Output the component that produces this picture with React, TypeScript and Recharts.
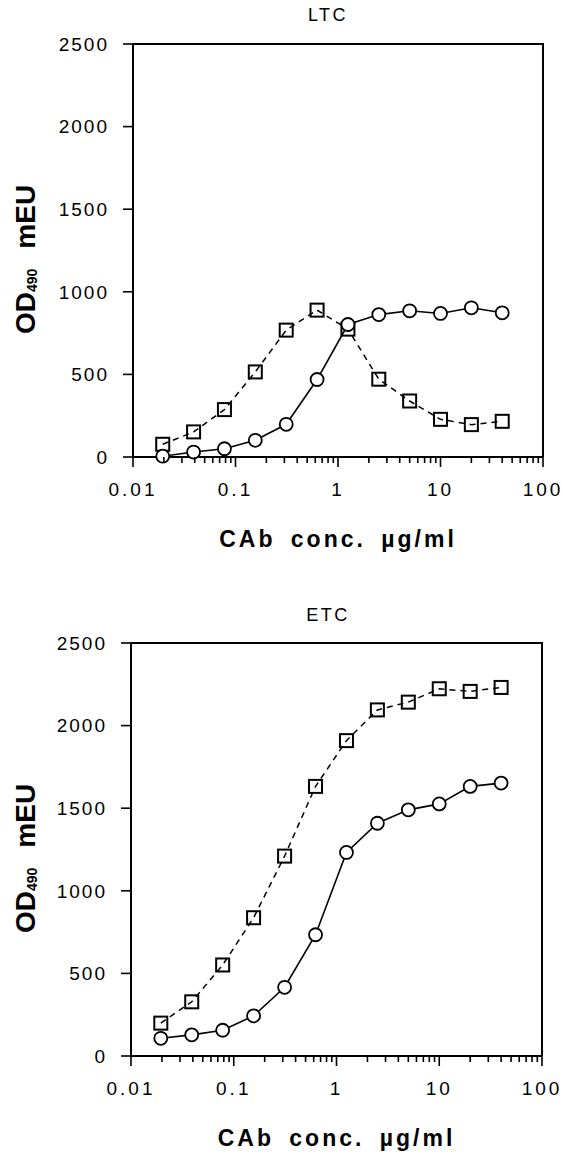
import React from 'react'
import { LineChart, Line, XAxis, YAxis, Label } from 'recharts'

// CAb concentrations (µg/ml), two-fold dilutions
const conc = [0.0195, 0.039, 0.078, 0.156, 0.3125, 0.625, 1.25, 2.5, 5, 10, 20, 40]

// OD490 mEU
const ltcCircle = [5, 30, 50, 101, 198, 469, 802, 862, 885, 869, 903, 873]
const ltcSquare = [77, 152, 287, 515, 768, 889, 774, 471, 339, 228, 196, 216]
const etcCircle = [107, 128, 156, 243, 416, 734, 1232, 1409, 1490, 1526, 1632, 1652]
const etcSquare = [199, 328, 551, 837, 1210, 1632, 1909, 2095, 2142, 2223, 2207, 2231]

const xMajorTicks = [0.01, 0.1, 1, 10, 100]
const xMajorLabels = ['0.01', '0.1', '1', '10', '100']
const xMinorTicks = [
  0.02, 0.03, 0.04, 0.05, 0.06, 0.07, 0.08, 0.09,
  0.2, 0.3, 0.4, 0.5, 0.6, 0.7, 0.8, 0.9,
  2, 3, 4, 5, 6, 7, 8, 9,
  20, 30, 40, 50, 60, 70, 80, 90,
]
const yTicks = [0, 500, 1000, 1500, 2000, 2500]

const FONT = '"Liberation Sans", Arial, Helvetica, sans-serif'
const PLOT_H = 413

function XTick(props: any) {
  const { x, y, payload } = props
  const idx = xMajorTicks.findIndex((t) => Math.abs(t - payload.value) < 1e-9)
  const major = idx >= 0
  return (
    <g>
      <line x1={x} x2={x} y1={y} y2={y + (major ? 10 : 6)} stroke="#000" strokeWidth={1.6} />
      {major && (
        <text
          x={x}
          y={y + 39}
          textAnchor="middle"
          fontSize={19}
          letterSpacing={3}
          fontFamily={FONT}
          fill="#000"
        >
          {xMajorLabels[idx]}
        </text>
      )}
    </g>
  )
}

function SquareDot(props: any) {
  const { cx, cy, index } = props
  if (cx == null || cy == null) return <g key={`s-${index}`} />
  return (
    <rect
      key={`s-${index}`}
      x={cx - 6.5}
      y={cy - 6.5}
      width={13}
      height={13}
      fill="none"
      stroke="#000"
      strokeWidth={2}
    />
  )
}

function XTitle(props: any) {
  const vb = props.viewBox || { x: 133, y: 457, width: 410 }
  return (
    <text
      x={vb.x + vb.width / 2}
      y={vb.y + 90}
      textAnchor="middle"
      fontSize={23}
      fontWeight="bold"
      letterSpacing={3}
      wordSpacing={6}
      fontFamily={FONT}
      fill="#000"
    >
      CAb conc. µg/ml
    </text>
  )
}

function YTitle(props: any) {
  const vb = props.viewBox || { x: 0, y: 44, width: 133, height: 413 }
  const bx = 35
  const by = vb.y + 290
  return (
    <text
      transform={`translate(${bx},${by}) rotate(-90)`}
      x={0}
      y={0}
      fontSize={28}
      fontWeight="bold"
      fontFamily={FONT}
      fill="#000"
    >
      OD
      <tspan fontSize={14} dy={2}>490</tspan>
      <tspan dx={20} dy={-2}>mEU</tspan>
    </text>
  )
}

function Panel({
  circle,
  square,
  height,
  top,
  left,
  right,
}: {
  circle: number[]
  square: number[]
  height: number
  top: number
  left: number
  right: number
}) {
  const data = conc.map((c, i) => ({ x: c, circle: circle[i], square: square[i] }))
  return (
    <div style={{ position: 'relative', width: 562, height }}>
      <LineChart
        width={562}
        height={height}
        data={data}
        margin={{ top, right, left: 0, bottom: 0 }}
      >
        <XAxis
          dataKey="x"
          type="number"
          scale="log"
          domain={[0.01, 100]}
          allowDataOverflow
          ticks={[...xMajorTicks, ...xMinorTicks].sort((a, b) => a - b)}
          interval={0}
          tickSize={0}
          tickMargin={0}
          tickLine={false}
          tick={<XTick />}
          axisLine={{ stroke: '#000', strokeWidth: 2 }}
          height={height - top - PLOT_H}
        >
          <Label content={<XTitle />} />
        </XAxis>
        <YAxis
          type="number"
          domain={[0, 2500]}
          ticks={yTicks}
          interval={0}
          width={left}
          tickSize={10}
          tickMargin={14}
          tickLine={{ stroke: '#000', strokeWidth: 1.6 }}
          axisLine={{ stroke: '#000', strokeWidth: 2 }}
          tick={{ fill: '#000', fontSize: 19, fontFamily: FONT, letterSpacing: 2 }}
        >
          <Label content={<YTitle />} />
        </YAxis>
        <Line
          type="linear"
          dataKey="square"
          stroke="#000"
          strokeWidth={1.5}
          strokeDasharray="6 5"
          dot={SquareDot}
          activeDot={false}
          isAnimationActive={false}
        />
        <Line
          type="linear"
          dataKey="circle"
          stroke="#000"
          strokeWidth={1.6}
          dot={{ r: 6.5, fill: '#fff', stroke: '#000', strokeWidth: 1.8 }}
          activeDot={false}
          isAnimationActive={false}
        />
      </LineChart>
      {/* top and right edges of the plot frame */}
      <div
        style={{
          position: 'absolute',
          left,
          top: top - 1,
          width: 562 - left - right + 1,
          height: PLOT_H + 1,
          borderTop: '2px solid #000',
          borderRight: '2px solid #000',
          boxSizing: 'border-box',
          pointerEvents: 'none',
        }}
      />
    </div>
  )
}

const titleStyle: React.CSSProperties = {
  position: 'absolute',
  left: 328,
  transform: 'translateX(-50%)',
  fontFamily: FONT,
  fontSize: 18,
  lineHeight: '20px',
  letterSpacing: 2.5,
  color: '#000',
  whiteSpace: 'nowrap',
}

export default function App() {
  return (
    <div style={{ position: 'absolute', left: 0, top: 0, width: 562, height: 1154, background: '#fff' }}>
      <div style={{ position: 'absolute', left: 0, top: 0 }}>
        <Panel circle={ltcCircle} square={ltcSquare} height={590} top={44} left={133} right={19} />
      </div>
      <div style={{ position: 'absolute', left: 0, top: 600 }}>
        <Panel circle={etcCircle} square={etcSquare} height={554} top={43} left={131} right={20} />
      </div>
      <div style={{ ...titleStyle, top: 5 }}>LTC</div>
      <div style={{ ...titleStyle, top: 605 }}>ETC</div>
    </div>
  )
}
